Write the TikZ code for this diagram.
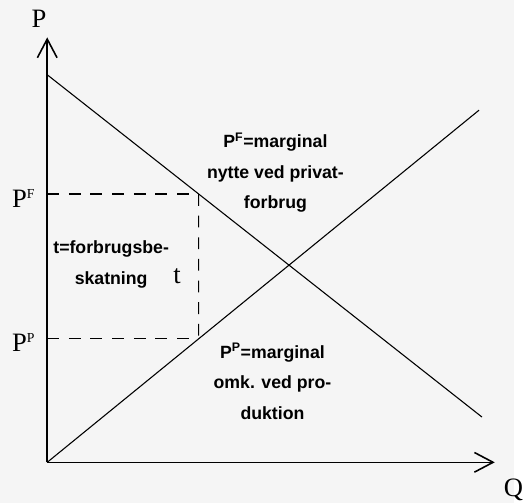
\documentclass[tikz,border=0pt]{standalone}
\usepackage{fontspec}
\setmainfont{Liberation Serif}
\setsansfont{Liberation Sans}
\usetikzlibrary{arrows.meta}
\usetikzlibrary{calc}
\pgfdeclarelayer{background}
\pgfdeclarelayer{edgelayer}
\pgfdeclarelayer{nodelayer}
\pgfsetlayers{background,edgelayer,nodelayer,main}
\definecolor{paper}{RGB}{245,245,245}
\tikzstyle{none}=[inner sep=0mm]
\tikzstyle{axis}=[line width=1.6pt,-{Straight Barb[length=19pt,width=20pt,line width=1.6pt]}]
\tikzstyle{curve}=[line width=1.1pt]
\tikzstyle{guide}=[line width=1.1pt,dash pattern=on 12pt off 10pt]
\tikzstyle{letter}=[inner sep=0mm,anchor=base west,font=\fontsize{27}{27}\selectfont]
\tikzstyle{note}=[inner sep=0mm,anchor=base,align=center,font=\sffamily\bfseries\fontsize{18}{31}\selectfont]
\newcommand{\hi}[1]{\raisebox{9pt}{\fontsize{14}{14}\selectfont #1}}

\begin{document}
\begin{tikzpicture}[x=1pt,y=-1pt]
	\begin{pgfonlayer}{background}
		\fill [paper] (0, 0) rectangle (523, 511);
		\useasboundingbox (0, 0) rectangle (523, 511);
	\end{pgfonlayer}
	\begin{pgfonlayer}{nodelayer}
		\coordinate (o) at (48, 470);
		\coordinate (ytop) at (48, 38);
		\coordinate (xend) at (503, 470);
		\coordinate (d1) at (48, 76);
		\coordinate (d2) at (490, 424);
		\coordinate (s2) at (487, 112);
		\coordinate (pf) at ($(d1)!{154/442}!(d2)$);
		\coordinate (pp) at ($(o)!{154/439}!(s2)$);
		\node [style=letter] (plab) at (32, 28) {P};
		\node [style=letter] (qlab) at (512, 505) {Q};
		\node [style=letter] (pflab) at (12, 211) {P\hi{F}};
		\node [style=letter] (pplab) at (12, 357) {P\hi{P}};
		\node [style=letter] (tlab) at (176, 288) {t};
		\node [style=note] (nytte) at (280, 212) {P\textsuperscript{F}=marginal\\nytte ved privat-\\forbrug};
		\node [style=note] (skat) at (113, 289) {t=forbrugsbe-\\skatning};
		\node [style=note] (omk) at (277, 426) {P\textsuperscript{P}=marginal\\omk. ved pro-\\duktion};
	\end{pgfonlayer}
	\begin{pgfonlayer}{edgelayer}
		\draw [style=axis] (o) to (ytop);
		\draw [style=axis] (o) to (xend);
		\draw [style=curve] (d1) to (d2);
		\draw [style=curve] (o) to (s2);
		\draw [style=guide] (pf -| o) to (pf);
		\draw [style=guide] (pp -| o) to (pp);
		\draw [style=guide] (pf) to (pp);
	\end{pgfonlayer}
\end{tikzpicture}
\end{document}
